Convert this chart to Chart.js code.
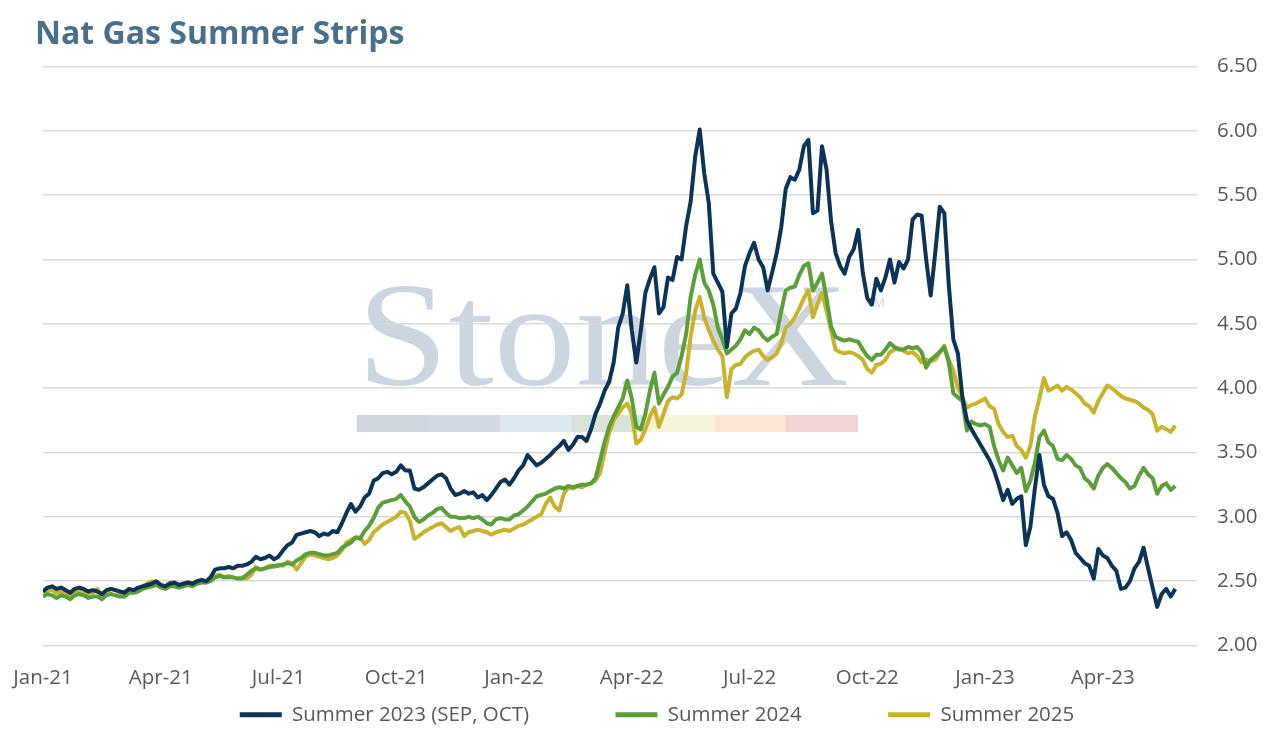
<!DOCTYPE html>
<html>
<head>
  <title>Nat Gas Summer Strips</title>
  <script src="https://cdn.jsdelivr.net/npm/chart.js"></script>
  <style>
    body { margin: 0; background: #fff; }
    #wrap { position: relative; width: 1271px; height: 734px; }
    #title {
      position: absolute; left: 35px; top: 16px; margin: 0;
      font: 700 32px 'Open Sans', sans-serif; line-height: 1;
      color: #4a7089; white-space: nowrap;
    }
  </style>
</head>
<body>
  <div id="wrap">
    <canvas id="strips-chart"></canvas>
    <h1 id="title">Nat Gas Summer Strips</h1>
  </div>
  <script>
// quarter ticks on the x axis (weeks since first week of Jan-21)
var tickLabels = ['Jan-21', 'Apr-21', 'Jul-21', 'Oct-21', 'Jan-22', 'Apr-22', 'Jul-22', 'Oct-22', 'Jan-23', 'Apr-23'];
var tickWeeks = [0, 13, 26, 39, 52, 65, 78, 91, 104, 117];

// twice-weekly settles, $/MMBtu
var summer2023 = [
  2.42,2.45,2.46,2.44,2.45,2.43,2.41,2.44,2.45,2.44,2.42,2.43,2.42,2.40,2.43,2.44,2.43,2.42,2.41,2.44,
  2.43,2.45,2.46,2.47,2.48,2.50,2.47,2.46,2.48,2.49,2.47,2.48,2.49,2.48,2.50,2.51,2.50,2.53,2.59,2.60,
  2.60,
  2.61,2.60,2.62,2.62,2.63,2.65,2.69,2.67,2.68,2.70,2.67,2.69,2.74,2.78,2.80,2.86,2.87,2.88,2.89,2.88,
  2.85,2.87,2.86,2.89,2.88,2.95,3.03,3.10,3.04,3.08,3.15,3.18,3.28,3.30,3.34,3.35,3.33,3.35,3.40,3.36,
  3.36,3.22,3.21,3.23,3.26,3.29,3.32,3.33,3.30,3.22,3.17,3.18,3.20,3.18,3.19,3.15,3.17,3.13,3.17,3.22,
  3.27,3.29,3.25,3.30,3.36,3.40,3.48,3.44,3.40,3.42,
  3.45,3.48,3.52,3.55,3.59,3.52,3.56,3.62,3.62,3.59,3.68,3.80,3.88,3.98,4.05,4.20,4.47,4.58,4.80,4.45,
  4.20,4.45,4.74,4.85,4.94,4.58,4.63,4.86,4.84,5.02,5.00,5.26,5.45,5.80,6.01,5.67,5.44,4.89,4.82,4.75,
  4.32,4.58,4.62,4.74,4.95,5.05,5.13,5.00,4.94,4.76,4.90,5.05,5.25,5.55,5.64,5.62,5.70,5.88,5.93,5.36,
  5.38,5.88,5.70,5.30,5.05,4.95,4.89,5.02,5.08,5.23,
  4.90,4.70,4.65,4.85,4.76,4.86,5.00,4.82,4.98,4.93,5.00,5.31,5.35,5.34,5.00,4.72,5.05,5.41,5.36,4.80,
  4.38,4.27,3.93,3.75,3.68,3.62,3.56,3.50,3.44,3.36,3.25,3.13,3.21,3.10,3.14,3.16,2.78,2.92,3.22,3.48,
  3.25,3.16,3.14,3.03,2.85,2.88,2.82,2.72,2.68,2.64,2.62,2.52,2.75,2.70,2.68,2.62,2.58,2.44,2.45,2.50,
  2.60,2.65,2.76,2.60,2.45,2.30,2.40,2.44,2.38,2.44
];
var summer2024 = [
  2.38,2.40,2.39,2.37,2.39,2.38,2.36,2.39,2.40,2.39,2.37,2.38,2.38,2.36,2.39,2.40,2.39,2.38,2.38,2.41,
  2.41,2.42,2.44,2.45,2.46,2.47,2.45,2.44,2.46,2.46,2.45,2.46,2.47,2.46,2.48,2.49,2.49,2.50,2.53,2.54,
  2.53,
  2.53,2.53,2.52,2.52,2.55,2.58,2.60,2.59,2.60,2.61,2.62,2.62,2.63,2.64,2.63,2.66,2.68,2.71,2.72,2.72,
  2.71,2.70,2.70,2.71,2.72,2.76,2.78,2.80,2.84,2.83,2.89,2.93,2.99,3.07,3.11,3.12,3.13,3.14,3.17,3.12,
  3.08,3.00,2.96,2.98,3.01,3.03,3.06,3.07,3.03,3.00,3.00,2.99,2.99,3.00,2.99,3.00,2.98,2.95,2.94,2.98,
  2.99,2.98,2.98,3.01,3.02,3.05,3.08,3.12,3.16,3.17,
  3.18,3.20,3.22,3.23,3.22,3.24,3.23,3.24,3.25,3.25,3.26,3.30,3.44,3.58,3.70,3.78,3.85,3.92,4.06,3.92,
  3.70,3.68,3.80,3.98,4.12,3.88,3.95,4.01,4.09,4.12,4.25,4.42,4.71,4.88,5.00,4.82,4.76,4.65,4.47,4.38,
  4.27,4.30,4.33,4.38,4.45,4.42,4.47,4.45,4.40,4.37,4.40,4.42,4.60,4.76,4.78,4.79,4.88,4.95,4.97,4.76,
  4.82,4.89,4.70,4.48,4.40,4.38,4.37,4.38,4.37,4.36,
  4.30,4.25,4.22,4.26,4.26,4.30,4.35,4.32,4.30,4.30,4.32,4.31,4.32,4.28,4.16,4.22,4.25,4.28,4.32,4.20,
  3.96,3.93,3.90,3.67,3.74,3.72,3.71,3.72,3.70,3.55,3.44,3.36,3.46,3.40,3.34,3.38,3.20,3.28,3.42,3.62,
  3.67,3.58,3.55,3.45,3.44,3.48,3.45,3.40,3.38,3.30,3.27,3.22,3.32,3.38,3.41,3.38,3.34,3.30,3.27,3.22,
  3.24,3.32,3.38,3.33,3.30,3.18,3.24,3.26,3.21,3.24
];
var summer2025 = [
  2.41,2.43,2.43,2.41,2.42,2.41,2.38,2.42,2.43,2.42,2.40,2.41,2.44,2.38,2.42,2.44,2.43,2.41,2.42,2.43,
  2.43,2.44,2.46,2.48,2.50,2.49,2.47,2.46,2.49,2.48,2.47,2.48,2.49,2.48,2.50,2.50,2.49,2.52,2.54,2.55,
  2.53,
  2.54,2.53,2.52,2.53,2.52,2.55,2.61,2.59,2.60,2.62,2.61,2.63,2.62,2.65,2.64,2.59,2.64,2.69,2.71,2.70,
  2.69,2.68,2.67,2.68,2.70,2.74,2.80,2.82,2.84,2.84,2.79,2.82,2.88,2.91,2.94,2.96,2.98,3.00,3.04,3.03,
  2.97,2.83,2.85,2.88,2.90,2.92,2.94,2.95,2.92,2.89,2.91,2.92,2.85,2.88,2.89,2.90,2.89,2.88,2.86,2.88,
  2.89,2.90,2.89,2.91,2.93,2.94,2.96,2.98,3.00,3.02,
  3.10,3.15,3.08,3.05,3.18,3.23,3.22,3.24,3.23,3.25,3.26,3.28,3.34,3.50,3.65,3.75,3.80,3.85,3.88,3.80,
  3.57,3.60,3.68,3.78,3.85,3.70,3.80,3.90,3.93,3.92,3.95,4.12,4.40,4.60,4.71,4.55,4.45,4.37,4.30,4.25,
  3.93,4.15,4.18,4.19,4.24,4.27,4.29,4.30,4.25,4.22,4.24,4.27,4.35,4.47,4.50,4.55,4.62,4.70,4.76,4.55,
  4.65,4.74,4.60,4.45,4.30,4.28,4.27,4.28,4.27,4.25,
  4.22,4.15,4.12,4.18,4.19,4.22,4.28,4.30,4.31,4.29,4.27,4.28,4.25,4.20,4.22,4.21,4.22,4.28,4.33,4.22,
  4.14,4.00,3.93,3.85,3.87,3.88,3.90,3.92,3.86,3.84,3.72,3.66,3.62,3.63,3.55,3.52,3.46,3.55,3.78,3.92,
  4.08,3.98,4.00,4.02,3.98,4.01,3.99,3.96,3.93,3.88,3.86,3.81,3.90,3.96,4.02,4.00,3.97,3.94,3.92,3.91,
  3.90,3.88,3.85,3.83,3.80,3.67,3.70,3.68,3.66,3.71
];

// sample date of each settle, in weeks (two per week)
function toPoints(values) {
  return values.map(function(v, i) { return { x: i / 2, y: v }; });
}

Chart.defaults.font.family = "'Open Sans', sans-serif";
Chart.defaults.color = '#595959';

// faint StoneX logo behind the lines
var watermark = {
  id: 'watermark',
  beforeDraw: function(chart) {
    var ctx = chart.ctx;
    ctx.save();
    ctx.font = '148px "Liberation Serif", serif';
    ctx.fillStyle = '#cdd5de';
    ctx.textBaseline = 'alphabetic';
    var w = ctx.measureText('StoneX').width;
    ctx.translate(357, 385);
    ctx.scale(492 / w, 1);
    ctx.fillText('StoneX', 0, 0);
    ctx.restore();
    ctx.save();
    ctx.font = '13px "Open Sans", sans-serif';
    ctx.fillStyle = '#cfd4da';
    ctx.fillText('TM', 866, 303);
    var band = ['#d0d6dd', '#d1dae3', '#dde9f0', '#d6e3d6', '#f7f4dc', '#f9e5d0', '#efd3d5'];
    for (var i = 0; i < band.length; i++) {
      ctx.fillStyle = band[i];
      ctx.fillRect(357 + i * 71.5, 415, 72, 17);
    }
    ctx.restore();
  }
};

var ctx = document.getElementById('strips-chart').getContext('2d');
var chart = new Chart(ctx, {
  type: 'line',
  data: {
    datasets: [{
      label: 'Summer 2023 (SEP, OCT)',
      data: toPoints(summer2023),
      borderColor: '#0c3358',
      borderWidth: 4
    }, {
      label: 'Summer 2024',
      data: toPoints(summer2024),
      borderColor: '#5b9e3a',
      borderWidth: 4
    }, {
      label: 'Summer 2025',
      data: toPoints(summer2025),
      borderColor: '#c8b42c',
      borderWidth: 4
    }]
  },
  options: {
    responsive: true,
    maintainAspectRatio: false,
    animation: false,
    elements: { point: { radius: 0 }, line: { tension: 0, borderJoinStyle: 'round' } },
    layout: { padding: { left: 43, right: 0, top: 66.5, bottom: -1 } },
    plugins: {
      tooltip: { enabled: false },
      legend: {
        position: 'bottom',
        onClick: function() {},
        labels: {
          usePointStyle: true,
          pointStyle: 'line',
          pointStyleWidth: 42,
          boxWidth: 42,
          padding: 12,
          color: '#595959',
          font: { size: 20.5 },
          generateLabels: function(chart) {
            var items = [];
            chart.data.datasets.forEach(function(ds, i) {
              if (i > 0) {
                // blank spacer to widen the gap between entries
                items.push({ text: '\u2002', fillStyle: 'rgba(0,0,0,0)', strokeStyle: 'rgba(0,0,0,0)',
                  lineWidth: 0, pointStyle: 'line', hidden: false, fontColor: 'rgba(0,0,0,0)' });
              }
              items.push({ text: ds.label, fillStyle: ds.borderColor, strokeStyle: ds.borderColor,
                lineWidth: 5, pointStyle: 'line', hidden: false, datasetIndex: i, fontColor: '#595959' });
            });
            return items;
          }
        }
      }
    },
    scales: {
      x: {
        type: 'linear',
        min: 0,
        max: 127.4,
        grid: { display: false },
        border: { display: false },
        afterBuildTicks: function(scale) {
          scale.ticks = tickWeeks.map(function(w) { return { value: w }; });
        },
        afterFit: function(scale) { scale.height = 47; },
        ticks: {
          padding: 12,
          maxRotation: 0,
          autoSkip: false,
          font: { size: 20.5 },
          color: '#595959',
          callback: function(value, index) { return tickLabels[index]; }
        }
      },
      y: {
        position: 'right',
        min: 2,
        max: 6.5,
        grid: { color: '#d9d9d9', lineWidth: 1.5, drawTicks: false },
        border: { display: false },
        afterFit: function(scale) { scale.width = 74; },
        ticks: {
          stepSize: 0.5,
          padding: 20,
          font: { size: 20.5 },
          color: '#595959',
          callback: function(v) { return v.toFixed(2); }
        }
      }
    }
  },
  plugins: [watermark]
});
  </script>
</body>
</html>
